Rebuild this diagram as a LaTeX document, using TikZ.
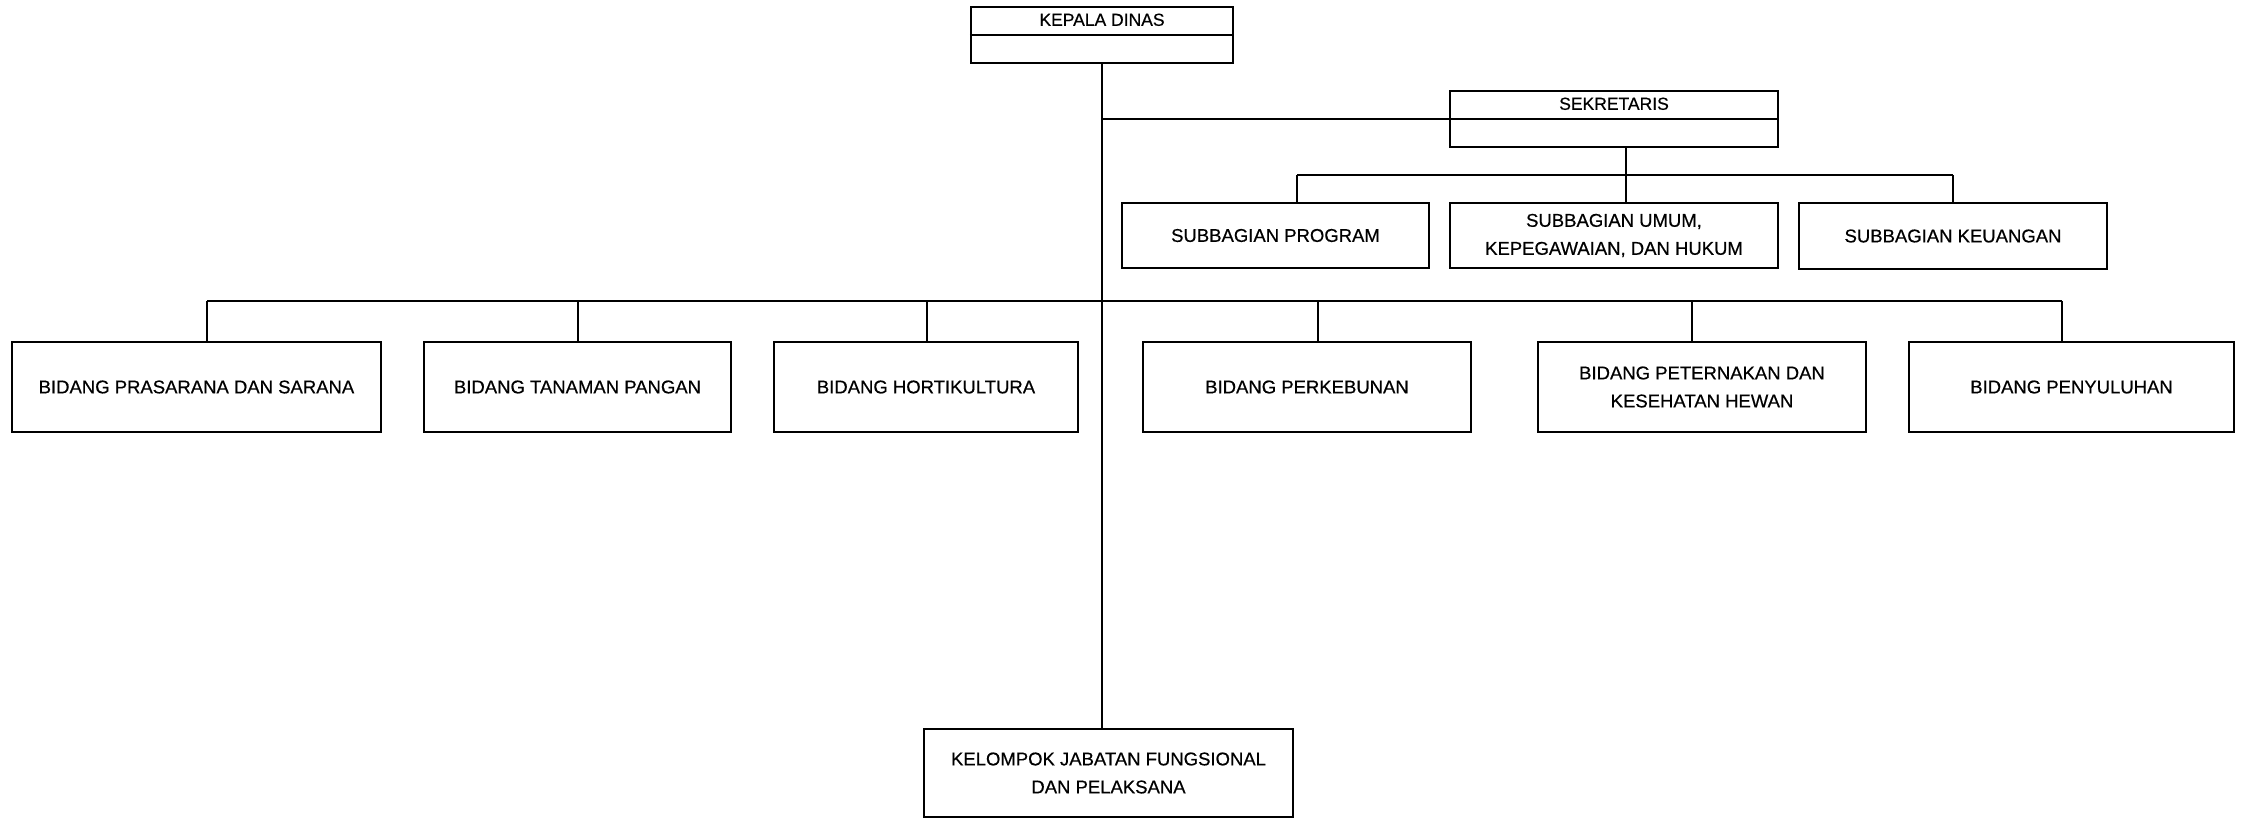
\documentclass[tikz,border=0pt]{standalone}
\usepackage{fontspec}
\setmainfont{Liberation Sans}[FakeBold=0.5]
\begin{document}
\begin{tikzpicture}[x=1pt,y=-1pt,
  box/.style={draw, line width=2.4pt, rectangle, inner sep=0pt, align=center,
    font=\fontsize{18.5}{28}\selectfont},
  conn/.style={line width=1.8pt},
  toplabel/.style={anchor=center, font=\fontsize{17.5}{20}\selectfont, inner sep=0pt}]
\useasboundingbox (0,0) rectangle (2245,819);

% top level
\node[box, minimum width=262, minimum height=56,
  label={[toplabel, yshift=-14pt]north:KEPALA DINAS}] (kepala) at (1102,35) {};
\draw[line width=2pt] (kepala.west) -- (kepala.east);

\node[box, minimum width=328, minimum height=56,
  label={[toplabel, yshift=-14pt]north:SEKRETARIS}] (sekr) at (1614,119) {};
\draw[line width=2pt] (sekr.west) -- (sekr.east);

% subbagian
\node[box, minimum width=307, minimum height=65] (prog) at (1275.5,235.5) {SUBBAGIAN PROGRAM};
\node[box, minimum width=328, minimum height=65] (umum) at (1614,235.5) {SUBBAGIAN UMUM,\\KEPEGAWAIAN, DAN HUKUM};
\node[box, minimum width=308, minimum height=66] (keu) at (1953,236) {SUBBAGIAN KEUANGAN};

% bidang
\node[box, minimum width=369, minimum height=90] (pras) at (196.5,387) {BIDANG PRASARANA DAN SARANA};
\node[box, minimum width=307, minimum height=90] (tan) at (577.5,387) {BIDANG TANAMAN PANGAN};
\node[box, minimum width=304, minimum height=90] (hort) at (926,387) {BIDANG HORTIKULTURA};
\node[box, minimum width=328, minimum height=90] (perk) at (1307,387) {BIDANG PERKEBUNAN};
\node[box, minimum width=328, minimum height=90] (pet) at (1702,387) {BIDANG PETERNAKAN DAN\\KESEHATAN HEWAN};
\node[box, minimum width=325, minimum height=90] (peny) at (2071.5,387) {BIDANG PENYULUHAN};

% kelompok
\node[box, minimum width=369, minimum height=88] (kel) at (1108.5,773) {KELOMPOK JABATAN FUNGSIONAL\\DAN PELAKSANA};

% connector points
\coordinate (spine) at (1102,119);
\coordinate (sbus) at (1626,175);
\coordinate (sbL) at (1297,175);
\coordinate (sbR) at (1953,175);
\coordinate (bbL) at (207,301);
\coordinate (bb2) at (578,301);
\coordinate (bb3) at (927,301);
\coordinate (bb4) at (1318,301);
\coordinate (bb5) at (1692,301);
\coordinate (bbR) at (2062,301);

% connectors
\draw[conn] (kepala.south) -- (kepala.south |- kel.north);
\draw[conn] (spine) -- (sekr.west);
\draw[conn] (sekr.south -| sbus) -- (sbus |- umum.north);
\draw[conn] (sbL) -- (sbR);
\draw[conn] (sbL) -- (sbL |- prog.north);
\draw[conn] (sbR) -- (sbR |- keu.north);
\draw[conn, line width=2pt] (bbL) -- (bbR);
\draw[conn] (bbL) -- (bbL |- pras.north);
\draw[conn] (bb2) -- (bb2 |- tan.north);
\draw[conn] (bb3) -- (bb3 |- hort.north);
\draw[conn] (bb4) -- (bb4 |- perk.north);
\draw[conn] (bb5) -- (bb5 |- pet.north);
\draw[conn] (bbR) -- (bbR |- peny.north);
\end{tikzpicture}
\end{document}
